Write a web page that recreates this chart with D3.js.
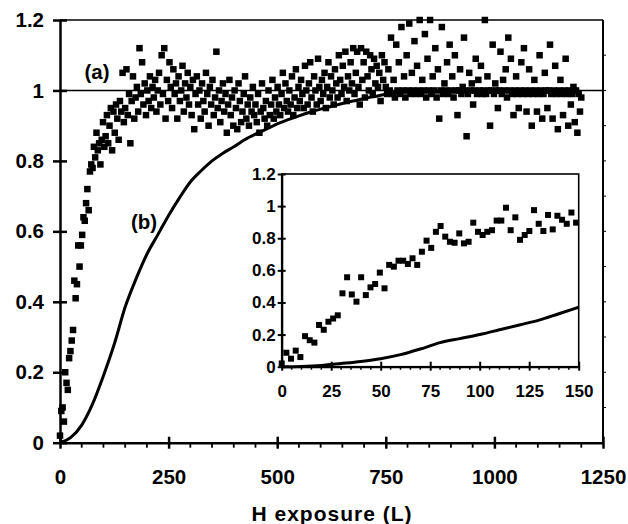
<!DOCTYPE html>
<html lang="en">
<head>
<meta charset="utf-8">
<title>H exposure</title>
<script src="https://d3js.org/d3.v7.min.js"></script>
<style>
  body { margin: 0; background: #fff; }
  svg text { font-family: "Liberation Sans", Arial, sans-serif; font-weight: bold; fill: #000; }
</style>
</head>
<body>
<svg width="628" height="524"></svg>
<script>
// ---- data ----
// (a) scan, one point every 3 L from 0 to 1200 L
var scanAStep = 3;
var scanA = [
  0.02,0.09,0.10,0.06,0.20,0.17,0.15,0.24,0.26,0.29,0.32,0.46,0.41,0.45,0.56,0.50,0.56,0.59,0.64,0.63,0.68,0.72,0.66,0.77,0.79,
  0.78,0.84,0.81,0.88,0.83,0.85,0.79,0.86,0.91,0.84,0.87,0.93,0.85,0.90,0.95,0.83,0.94,0.88,0.96,0.92,0.86,0.97,0.94,1.05,0.91,
  0.95,1.06,0.93,0.99,0.85,0.97,1.04,0.92,0.98,1.01,0.94,1.12,0.99,1.08,0.96,1.02,0.93,1.00,0.97,1.04,0.95,1.01,0.98,1.03,0.94,
  1.00,1.05,0.96,1.10,0.99,1.12,0.92,1.03,0.97,1.08,1.01,0.95,1.06,0.99,1.02,0.92,1.04,0.97,1.00,1.07,0.94,1.02,0.98,1.05,0.96,
  1.01,0.93,1.03,0.89,0.99,1.04,0.96,1.00,0.92,1.02,0.97,0.94,1.05,0.99,0.90,1.01,0.96,1.03,0.93,0.98,1.11,0.95,1.00,0.91,0.97,
  1.02,0.94,0.99,0.88,0.96,1.03,0.93,0.98,0.90,1.00,0.95,0.89,1.02,0.97,0.91,0.94,0.99,1.04,0.92,0.96,0.90,0.98,0.94,1.01,0.93,
  0.96,0.91,0.99,0.88,0.94,1.02,0.95,0.92,0.97,0.90,1.00,0.93,0.96,1.03,0.92,0.98,0.94,1.01,0.96,0.93,0.99,1.05,0.95,1.02,0.97,
  0.94,1.00,0.96,1.04,0.93,0.98,1.06,0.95,1.01,0.97,1.03,0.99,0.95,1.07,1.00,0.96,1.02,1.08,0.98,0.94,1.04,1.00,0.96,1.09,1.01,
  0.97,1.03,0.99,1.05,0.95,1.01,1.08,0.98,1.04,1.00,0.96,1.06,1.02,0.98,1.10,1.03,0.99,1.07,1.01,1.11,0.97,1.04,1.00,1.08,1.02,
  1.12,0.99,1.05,1.11,1.01,0.96,1.12,1.03,1.08,0.98,1.11,1.04,1.00,1.10,1.06,0.99,1.09,1.02,1.07,1.01,1.05,0.97,1.10,1.03,1.08,
  1.01,0.99,1.06,1.00,1.15,0.99,1.03,0.98,1.13,1.00,1.08,0.99,1.18,1.00,1.04,0.98,1.10,1.00,1.19,0.99,1.05,1.00,1.14,0.99,1.07,
  1.00,1.20,0.99,1.03,1.00,1.16,0.98,1.09,1.00,1.20,0.99,1.04,1.00,1.12,0.98,1.06,0.92,1.00,1.18,0.99,1.02,1.00,1.08,0.99,1.13,
  1.00,1.04,0.98,1.10,1.00,0.93,1.00,1.06,0.99,1.01,1.15,1.00,0.87,0.99,1.05,1.00,1.02,0.96,1.00,1.09,0.99,1.03,1.00,1.07,0.99,
  1.00,1.20,0.99,1.04,1.00,0.90,1.00,1.13,0.99,1.02,1.00,0.95,1.00,1.11,0.99,1.03,1.00,1.06,0.98,1.15,1.00,1.09,0.99,0.93,1.00,
  1.04,0.99,0.95,1.00,1.08,0.99,1.12,1.00,0.94,0.99,1.06,1.00,0.90,0.99,1.03,1.00,0.94,0.99,1.10,1.00,0.92,0.99,1.05,1.00,0.95,
  1.00,1.13,0.99,0.92,1.00,1.07,0.99,0.89,1.00,1.03,0.99,0.93,1.00,1.09,0.99,0.90,1.00,0.96,0.99,1.01,0.91,1.00,0.88,0.99,0.94,
  0.98
];
// (b) curve, every 25 L
var curveBStep = 25;
var curveB = [0,0.015,0.05,0.11,0.19,0.28,0.385,0.465,0.535,0.59,0.645,0.695,0.74,0.772,0.80,0.822,0.84,0.86,0.876,0.89,
  0.905,0.917,0.928,0.938,0.947,0.955,0.963,0.970,0.977,0.983,0.989,0.993,0.996,0.995,0.997,0.996,0.998,0.997,0.996,0.998,
  0.997,0.999,0.998,1.0,0.999,1.0,1.002,1.0,0.995];

// inset: first 150 L
var insetAStep = 2.36;
var insetA = [0.02,0.087,0.05,0.10,0.06,0.19,0.165,0.15,0.26,0.23,0.28,0.30,0.32,0.457,0.557,0.45,0.405,0.557,0.446,0.494,
  0.515,0.586,0.488,0.634,0.623,0.66,0.66,0.64,0.675,0.634,0.716,0.785,0.74,0.84,0.876,0.81,0.778,0.772,0.83,0.768,
  0.778,0.897,0.84,0.82,0.84,0.85,0.91,0.91,0.99,0.85,0.93,0.79,0.82,0.845,0.975,0.89,0.845,0.945,0.855,0.94,
  0.915,0.89,0.96,0.897];
var insetBStep = 10;
var insetB = [0,0.002,0.008,0.02,0.033,0.05,0.075,0.11,0.15,0.175,0.20,0.23,0.26,0.29,0.33,0.37];

// ticks
var xTicks = [0,250,500,750,1000,1250];
var xTickLabels = ["0","250","500","750","1000","1250"];
var yTicks = [0,0.2,0.4,0.6,0.8,1,1.2];
var yTickLabels = ["0","0.2","0.4","0.6","0.8","1","1.2"];
var insetXTicks = [0,25,50,75,100,125,150];
var insetXTickLabels = ["0","25","50","75","100","125","150"];

var svg = d3.select("svg");
var mark = 6.5;

// ---- main plot ----
var x = d3.scaleLinear().domain([0,1250]).range([60,603]);
var y = d3.scaleLinear().domain([0,1.2]).range([442.7,20]);

// frame top/right
svg.append("line").attr("x1",x(0)).attr("x2",x(1250)).attr("y1",y(1.2)).attr("y2",y(1.2))
  .attr("stroke","#000").attr("stroke-width",1.6);
svg.append("line").attr("x1",x(1250)).attr("x2",x(1250)).attr("y1",y(1.2)).attr("y2",y(0))
  .attr("stroke","#000").attr("stroke-width",2);
svg.append("g").selectAll("line").data(d3.range(0.1,1.2,0.1)).join("line")
  .attr("x1",x(1250)).attr("x2",x(1250)+3).attr("y1",d=>y(d)).attr("y2",d=>y(d))
  .attr("stroke","#000").attr("stroke-width",1);

// reference line at 1
svg.append("line").attr("x1",x(0)).attr("x2",x(1250)).attr("y1",y(1)).attr("y2",y(1))
  .attr("stroke","#000").attr("stroke-width",1.6);

// x axis
var gx = svg.append("g").attr("transform","translate(0,"+y(0)+")")
  .call(d3.axisBottom(x).tickValues(xTicks).tickFormat((d,i)=>xTickLabels[i]).tickSizeOuter(0));
gx.select(".domain").attr("stroke-width",2.5);
gx.selectAll(".tick line").attr("y1",-6).attr("y2",6).attr("stroke-width",2.5);
gx.selectAll(".tick text").attr("y",27).attr("font-size",20.5);
svg.append("g").selectAll("line").data(d3.range(50,1250,50).filter(d=>d%250)).join("line")
  .attr("x1",d=>x(d)).attr("x2",d=>x(d)).attr("y1",y(0)).attr("y2",y(0)+5)
  .attr("stroke","#000").attr("stroke-width",1.8);

// y axis
var gy = svg.append("g").attr("transform","translate("+x(0)+",0)")
  .call(d3.axisLeft(y).tickValues(yTicks).tickFormat((d,i)=>yTickLabels[i]).tickSizeOuter(0));
gy.select(".domain").attr("stroke-width",2.5);
gy.selectAll(".tick line").attr("x1",-7).attr("x2",7).attr("stroke-width",2.5);
gy.selectAll(".tick text").attr("x",-16).attr("font-size",20.5);
svg.selectAll(".domain").attr("stroke","#000");

// curve (b)
svg.append("path")
  .datum(curveB)
  .attr("fill","none").attr("stroke","#000").attr("stroke-width",3)
  .attr("d", d3.line().x((d,i)=>x(i*curveBStep)).y(d=>y(d)).curve(d3.curveMonotoneX));

// scan (a)
svg.append("g").selectAll("rect").data(scanA).join("rect")
  .attr("x",(d,i)=>x(i*scanAStep)-mark/2).attr("y",d=>y(d)-mark/2)
  .attr("width",mark).attr("height",mark).attr("fill","#000");

// labels
svg.append("text").attr("x",97).attr("y",79).attr("text-anchor","middle").attr("font-size",20.5).text("(a)");
svg.append("text").attr("x",144).attr("y",229).attr("text-anchor","middle").attr("font-size",20.5).text("(b)");
svg.append("text").attr("x",332).attr("y",521).attr("text-anchor","middle").attr("font-size",21)
  .attr("letter-spacing",1).text("H exposure (L)");

// ---- inset ----
var ix = d3.scaleLinear().domain([0,150]).range([281.7,578.7]);
var iy = d3.scaleLinear().domain([0,1.2]).range([366.7,174]);

svg.append("rect").attr("x",ix(0)).attr("y",iy(1.2)).attr("width",ix(150)-ix(0)).attr("height",iy(0)-iy(1.2))
  .attr("fill","#fff").attr("stroke","#000").attr("stroke-width",1.6);

var igx = svg.append("g").attr("transform","translate(0,"+iy(0)+")")
  .call(d3.axisBottom(ix).tickValues(insetXTicks).tickFormat((d,i)=>insetXTickLabels[i]).tickSizeOuter(0));
igx.select(".domain").attr("stroke","#000").attr("stroke-width",2.2);
igx.selectAll(".tick line").attr("y1",-5).attr("y2",4).attr("stroke-width",2);
igx.selectAll(".tick text").attr("y",18).attr("font-size",17);
svg.append("g").selectAll("line").data(d3.range(5,150,5).filter(d=>d%25)).join("line")
  .attr("x1",d=>ix(d)).attr("x2",d=>ix(d)).attr("y1",iy(0)).attr("y2",iy(0)+3)
  .attr("stroke","#000").attr("stroke-width",1.5);

var igy = svg.append("g").attr("transform","translate("+ix(0)+",0)")
  .call(d3.axisLeft(iy).tickValues(yTicks).tickFormat((d,i)=>yTickLabels[i]).tickSizeOuter(0));
igy.select(".domain").attr("stroke","#000").attr("stroke-width",2.2);
igy.selectAll(".tick line").attr("x1",-4).attr("x2",4).attr("stroke-width",2);
igy.selectAll(".tick text").attr("x",-6).attr("font-size",17);

svg.append("path")
  .datum(insetB)
  .attr("fill","none").attr("stroke","#000").attr("stroke-width",3)
  .attr("d", d3.line().x((d,i)=>ix(i*insetBStep)).y(d=>iy(d)).curve(d3.curveMonotoneX));

svg.append("g").selectAll("rect").data(insetA).join("rect")
  .attr("x",(d,i)=>ix(i*insetAStep)-3).attr("y",d=>iy(d)-3)
  .attr("width",6).attr("height",6).attr("fill","#000");

svg.selectAll("g text").attr("fill","#000").attr("font-family","'Liberation Sans', Arial, sans-serif").attr("font-weight","bold");
</script>
</body>
</html>
